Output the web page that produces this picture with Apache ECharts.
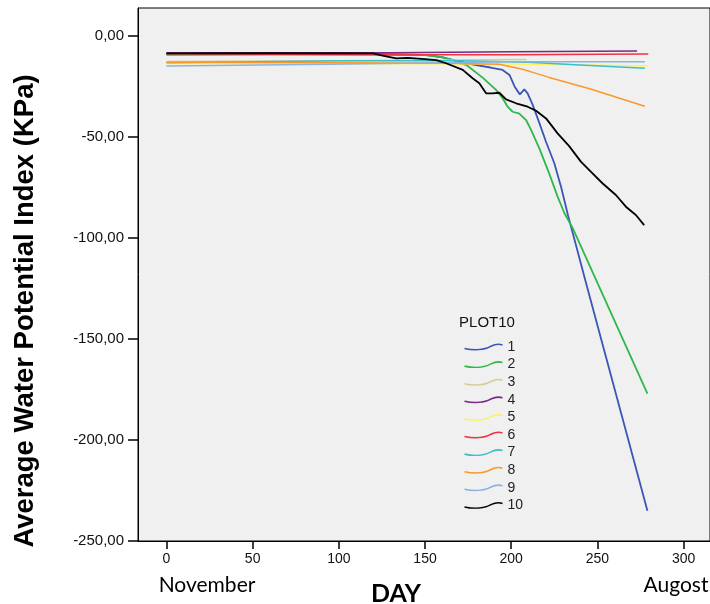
<!DOCTYPE html>
<html>
<head>
<meta charset="utf-8">
<script src="https://cdn.jsdelivr.net/npm/echarts@6/dist/echarts.min.js"></script>
<style>
  html, body { margin: 0; padding: 0; background: #fff; }
  #chart { width: 710px; height: 604px; }
</style>
</head>
<body>
<div id="chart"></div>
<script>
// day / potential pairs, one list per plot
const plot1 = [[0, -8.8], [60, -8.8], [120, -8.9], [150, -9.3], [160, -10.6], [170, -12.6], [178, -14.2], [188, -15.6], [195, -16.8], [199, -19.3], [202, -25.1], [205, -28.9], [207.6, -26.4], [209.5, -28.4], [212.4, -34], [216.3, -43], [220, -52], [225, -63], [229, -75], [233, -89], [238, -105], [243, -121], [279, -235]];
const plot2 = [[0, -9.3], [60, -9.2], [120, -9.2], [150, -9.4], [160, -10.5], [166, -12], [174, -14.4], [183.4, -20.6], [191.2, -26.7], [195, -30.8], [197.9, -35], [200.8, -37.5], [204.7, -38.4], [208.6, -41.6], [211.5, -46.5], [216.3, -55.6], [222, -68], [226.9, -79.5], [231, -88], [235.6, -95], [279, -177]];
const plot3 = [[0, -12.6], [100, -12.2], [209, -11.6]];
const plot4 = [[0, -8.3], [131, -8.3], [200, -7.8], [273, -7.4]];
const plot5 = [[0, -13.6], [100, -13.6], [200, -13.9], [279.5, -14.9]];
const plot6 = [[0, -8.8], [130, -9.3], [200, -9.3], [279.5, -8.9]];
const plot7 = [[0, -13.2], [100, -12.2], [170, -12.2], [210, -13], [240, -14.3], [277.5, -16]];
const plot8 = [[0, -13], [100, -13.3], [160, -13.5], [193, -14], [206.6, -16.5], [214.4, -18.5], [222, -20.5], [245, -26], [277.5, -34.8]];
const plot9 = [[0, -14.9], [95, -14], [200, -12.8], [277.5, -12.7]];
const plot10 = [[0, -8.6], [60, -8.5], [119.8, -8.6], [126, -9.8], [133.3, -11.1], [140, -10.8], [150, -11.4], [156.5, -11.9], [162.2, -13.5], [171.9, -16.8], [177.6, -20.9], [181.5, -23.4], [185.4, -28.4], [189.2, -28.4], [193.1, -28.1], [197, -31.4], [202.8, -33.3], [209.5, -35], [214.4, -37], [220.2, -40.8], [226.9, -48.2], [233.6, -54.5], [240.4, -62.2], [246, -67], [252.9, -72.9], [260.7, -78.7], [266.5, -84.5], [272.3, -88.6], [277.1, -93.6]];

const plotNames = ['1', '2', '3', '4', '5', '6', '7', '8', '9', '10'];
const plotColors = ['#3a57b5', '#2fb84a', '#d4cb9a', '#7a2a82', '#fbf35a', '#ef3340', '#3bbfc8', '#fa982a', '#8ab4e0', '#000000'];
const dayTicks = [0, 50, 100, 150, 200, 250, 300];
const valueTicks = [-250, -200, -150, -100, -50, 0];

const allPlots = [plot1, plot2, plot3, plot4, plot5, plot6, plot7, plot8, plot9, plot10];
const heavy = ['1', '2', '10'];

const chart = echarts.init(document.getElementById('chart'), null, { renderer: 'canvas' });

const wave = 'path://M0,4.5 C9,6.5 20,6 27,2 C31,0 35,0 38,1';

const option = {
    animation: false,
    backgroundColor: '#ffffff',
    textStyle: { fontFamily: 'Liberation Sans' },
    grid: {
        left: 138, top: 8, right: -1, bottom: 63,
        show: true,
        backgroundColor: '#f0f0f0',
        borderColor: '#000',
        borderWidth: 1
    },
    xAxis: {
        type: 'value',
        min: -16.5,
        max: 315.3,
        splitLine: { show: false },
        axisLine: { show: true, onZero: false, lineStyle: { color: '#000', width: 1 } },
        axisTick: { show: true, length: 8, customValues: dayTicks, lineStyle: { color: '#000', width: 1.5 } },
        axisLabel: { customValues: dayTicks, margin: 11, fontSize: 14, color: '#111', fontFamily: 'Liberation Sans' }
    },
    yAxis: {
        type: 'value',
        min: -250,
        max: 13.86,
        splitLine: { show: false },
        axisLine: { show: true, onZero: false, lineStyle: { color: '#000', width: 1 } },
        axisTick: { show: true, length: 10, customValues: valueTicks, lineStyle: { color: '#000', width: 1.5 } },
        axisLabel: {
            customValues: valueTicks,
            margin: 14,
            fontSize: 15,
            color: '#111',
            fontFamily: 'Liberation Sans',
            formatter: v => v.toFixed(2).replace('.', ',')
        }
    },
    legend: {
        orient: 'vertical',
        left: 462,
        top: 340,
        padding: 0,
        icon: wave,
        itemWidth: 38,
        itemHeight: 6,
        itemGap: 3.6,
        textStyle: { fontSize: 14, color: '#222', fontFamily: 'Liberation Sans', lineHeight: 14 },
        data: plotNames.map((n, i) => ({
            name: n,
            itemStyle: { color: 'none', borderColor: plotColors[i], borderWidth: 1.6 }
        }))
    },
    graphic: [
        {
            type: 'text', x: 25, y: 311, rotation: Math.PI / 2,
            style: { text: 'Average Water Potential Index (KPa)', fontSize: 27.5, fontWeight: 'bold', fontFamily: 'Liberation Sans', fill: '#000', align: 'center', verticalAlign: 'middle' }
        },
        {
            type: 'text', x: 487, y: 323,
            style: { text: 'PLOT10', fontSize: 15, fontFamily: 'Liberation Sans', fill: '#111', align: 'center', verticalAlign: 'middle' }
        },
        {
            type: 'text', x: 207, y: 585,
            style: { text: 'November', fontSize: 21, fontFamily: 'Lato', fill: '#000', align: 'center', verticalAlign: 'middle' }
        },
        {
            type: 'text', x: 676, y: 585,
            style: { text: 'Augost', fontSize: 21, fontFamily: 'Lato', fill: '#000', align: 'center', verticalAlign: 'middle' }
        },
        {
            type: 'text', x: 396, y: 594,
            style: { text: 'DAY', fontSize: 25, fontWeight: 'bold', fontFamily: 'Lato', fill: '#000', align: 'center', verticalAlign: 'middle' }
        }
    ],
    series: allPlots.map((pts, i) => ({
        name: plotNames[i],
        type: 'line',
        data: pts,
        symbol: 'none',
        smooth: false,
        color: plotColors[i],
        lineStyle: { color: plotColors[i], width: heavy.includes(plotNames[i]) ? 1.8 : 1.5 },
        emphasis: { disabled: true }
    }))
};

chart.setOption(option);
</script>
</body>
</html>
